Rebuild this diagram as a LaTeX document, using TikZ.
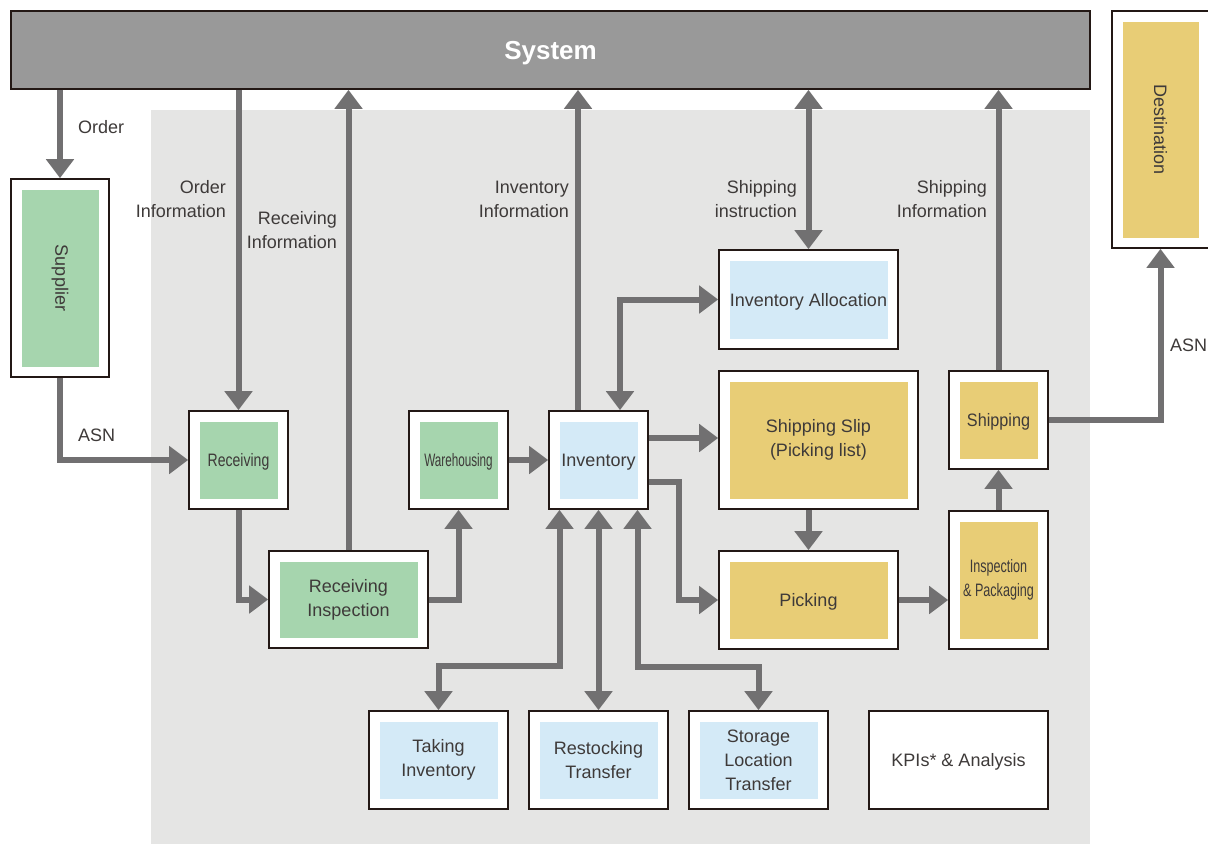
\documentclass[tikz,border=0pt]{standalone}
\usepackage{fontspec}
\setmainfont{Liberation Sans}
\usetikzlibrary{arrows.meta,calc}

\definecolor{frame}{HTML}{231815}
\definecolor{sysgray}{HTML}{999999}
\definecolor{zonegray}{HTML}{E5E5E4}
\definecolor{flow}{HTML}{717071}
\definecolor{ink}{HTML}{3E3A39}
\definecolor{recvgreen}{HTML}{A6D5AE}
\definecolor{stockblue}{HTML}{D4EAF7}
\definecolor{shipyellow}{HTML}{E8CD76}

\tikzset{
  stage/.style={draw=frame, line width=1.6pt, fill=white, inner sep=0pt,
    align=center, text=ink, font=\fontsize{18}{24}\selectfont,
    path picture={\fill[#1]
      ([shift={(10.5pt,10.5pt)}]path picture bounding box.south west) rectangle
      ([shift={(-10.5pt,-10.5pt)}]path picture bounding box.north east);}},
  oneline/.style={text depth=0pt},
  lbl/.style={text=ink, font=\fontsize{18}{24}\selectfont, inner sep=0pt},
  flowline/.style={draw=flow, line width=6pt, line join=miter,
    -{Triangle[width=27pt,length=19pt]}},
  twoway/.style={draw=flow, line width=6pt, line join=miter,
    {Triangle[width=27pt,length=19pt]}-{Triangle[width=27pt,length=19pt]}},
}

\begin{document}
\begin{tikzpicture}[x=1pt,y=-1pt]
\useasboundingbox (0,0) rectangle (1208,844);
\fill[white] (0,0) rectangle (1208,844);

% warehouse area
\fill[zonegray] (151,110) rectangle (1090,844);

% system bar
\node[draw=frame, line width=1.6pt, fill=sysgray, minimum width=1079pt, minimum height=78pt,
      text=white, text depth=0pt, font=\fontsize{26}{30}\selectfont\bfseries] (sys) at (550.5,50) {System};

% outside parties
\node[stage=recvgreen, minimum width=98pt, minimum height=198pt] (sup) at (60,278)
  {\rotatebox{-90}{Supplier}};
\node[stage=shipyellow, minimum width=97pt, minimum height=237pt] (dst) at (1160.5,129.5)
  {\rotatebox{-90}{Destination}};

% receiving side
\node[stage=recvgreen, oneline, minimum width=99pt, minimum height=98pt] (rec) at (238.5,460)
  {\scalebox{0.78}[1]{Receiving}};
\node[stage=recvgreen, minimum width=159pt, minimum height=97pt] (ri) at (348.5,599.5)
  {Receiving\\Inspection};
\node[stage=recvgreen, oneline, minimum width=99pt, minimum height=98pt] (wh) at (458.5,460)
  {\scalebox{0.65}[1]{Warehousing}};

% inventory
\node[stage=stockblue, oneline, minimum width=99pt, minimum height=98pt] (inv) at (598.5,460)
  {Inventory};
\node[stage=stockblue, oneline, minimum width=179pt, minimum height=99pt] (ia) at (808.5,299.5)
  {Inventory Allocation};
\node[stage=stockblue, minimum width=139pt, minimum height=98pt] (take) at (438.5,760)
  {Taking\\Inventory};
\node[stage=stockblue, minimum width=139pt, minimum height=98pt] (rest) at (598.5,760)
  {Restocking\\Transfer};
\node[stage=stockblue, minimum width=139pt, minimum height=98pt] (stor) at (758.5,760)
  {Storage\\Location\\Transfer};

% shipping side
\node[stage=shipyellow, minimum width=199pt, minimum height=138pt] (ss) at (818.5,440)
  {Shipping Slip\\(Picking list)};
\node[stage=shipyellow, oneline, minimum width=179pt, minimum height=98pt] (pick) at (808.5,600)
  {Picking};
\node[stage=shipyellow, minimum width=99pt, minimum height=138pt] (ip) at (998.5,580)
  {\scalebox{0.7}[1]{Inspection}\\\scalebox{0.7}[1]{\& Packaging}};
\node[stage=shipyellow, oneline, minimum width=99pt, minimum height=98pt] (shp) at (998.5,420)
  {\scalebox{0.9}[1]{Shipping}};

\node[stage=white, oneline, minimum width=179pt, minimum height=98pt] (kpi) at (958.5,760)
  {KPIs* \& Analysis};

% information flows with the system
\draw[flowline] (sys.south -| sup.north) -- (sup.north);
\draw[flowline] (sys.south -| rec.north) -- (rec.north);
\draw[flowline] (ri.north) -- (ri.north |- sys.south);
\coordinate (invup) at ($(inv.north)+(-20.5,0)$);
\draw[flowline] (invup) -- (invup |- sys.south);
\draw[twoway] (sys.south -| ia.north) -- (ia.north);
\draw[flowline] (shp.north) -- (shp.north |- sys.south);

% goods flow
\draw[flowline] (sup.south) |- (rec.west);
\draw[flowline] (rec.south) |- (ri.west);
\draw[flowline] (ri.east) -| (wh.south);
\draw[flowline] (wh.east) -- (inv.west);
\draw[twoway] ($(inv.north)+(21.5,0)$) |- (ia.west);
\draw[flowline] ($(inv.east)+(0,-22)$) -- ($(ss.west |- inv.east)+(0,-22)$);
\draw[flowline] ($(inv.east)+(0,22)$) -| ($(pick.west)+(-39,0)$) -- (pick.west);
\draw[flowline] (pick.north |- ss.south) -- (pick.north);
\draw[flowline] (pick.east) -- (pick.east -| ip.west);
\draw[flowline] (ip.north) -- (shp.south);
\draw[flowline] (shp.east) -| (dst.south);

% inventory operations
\draw[twoway] ($(inv.south)+(-39,0)$) |- ($(take.north)+(0,-44)$) -- (take.north);
\draw[twoway] (inv.south) -- (rest.north);
\draw[twoway] ($(inv.south)+(39,0)$) |- ($(stor.north)+(0,-43)$) -- (stor.north);

% flow labels
\node[lbl, anchor=west] (lorder) at (78,127) {Order};
\node[lbl, anchor=east, align=right] (lorderinfo) at (226,199) {Order\\Information};
\node[lbl, anchor=east, align=right] (lrecinfo) at (337,230.5) {Receiving\\Information};
\node[lbl, anchor=east, align=right] (linvinfo) at (569,199) {Inventory\\Information};
\node[lbl, anchor=east, align=right] (lshipinstr) at (797,199) {Shipping\\instruction};
\node[lbl, anchor=east, align=right] (lshipinfo) at (987,199) {Shipping\\Information};
\node[lbl, anchor=west] (lasnin) at (78,435) {ASN};
\node[lbl, anchor=west] (lasnout) at (1170,345) {ASN};
\end{tikzpicture}
\end{document}
